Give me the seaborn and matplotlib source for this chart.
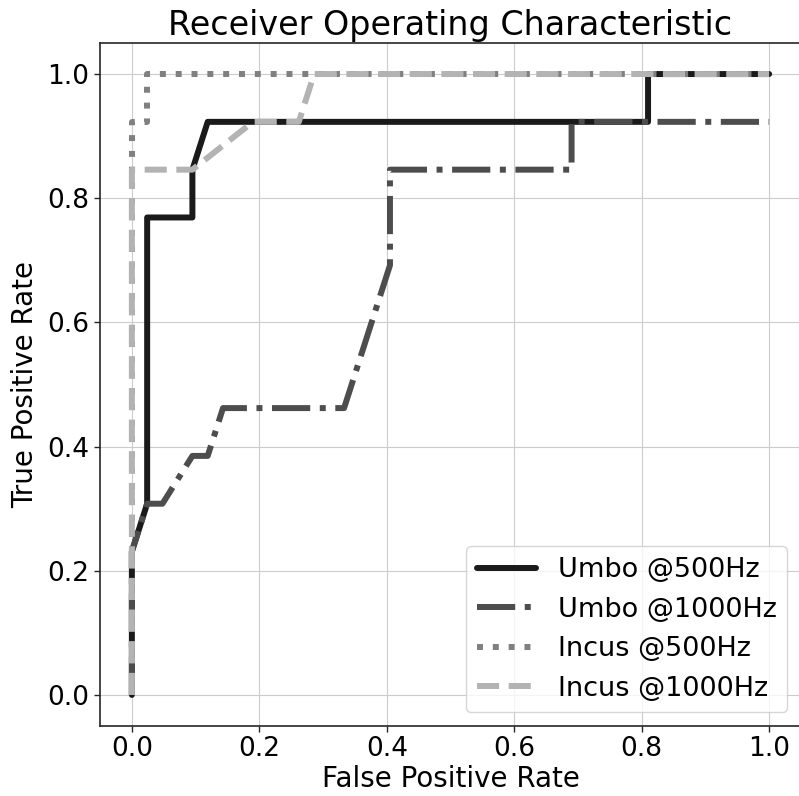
import matplotlib
matplotlib.use("Agg")
import matplotlib.pyplot as plt
import seaborn as sns
import pandas as pd

# ROC curve data (FPR, TPR)
umbo500_fpr = [0.0, 0.0, 0.024, 0.024, 0.095, 0.095, 0.119, 0.810, 0.810, 1.0]
umbo500_tpr = [0.0, 0.231, 0.308, 0.769, 0.769, 0.846, 0.923, 0.923, 1.0, 1.0]

umbo1000_fpr = [0.0, 0.0, 0.024, 0.048, 0.095, 0.119, 0.143, 0.333, 0.405, 0.405, 0.690, 0.690, 1.0]
umbo1000_tpr = [0.0, 0.231, 0.308, 0.308, 0.385, 0.385, 0.462, 0.462, 0.692, 0.846, 0.846, 0.923, 0.923]

incus500_fpr = [0.0, 0.0, 0.024, 0.024, 1.0]
incus500_tpr = [0.0, 0.923, 0.923, 1.0, 1.0]

incus1000_fpr = [0.0, 0.0, 0.095, 0.190, 0.262, 0.286, 1.0]
incus1000_tpr = [0.0, 0.846, 0.846, 0.923, 0.923, 1.0, 1.0]

labels = ["Umbo @500Hz", "Umbo @1000Hz", "Incus @500Hz", "Incus @1000Hz"]
colors = ["#1a1a1a", "#4d4d4d", "#808080", "#b3b3b3"]
styles = ["-", "-.", ":", "--"]

sns.set_style("whitegrid", {"axes.edgecolor": "0.15", "grid.color": "0.8",
                            "xtick.bottom": True, "ytick.left": True,
                            "text.color": "black", "axes.labelcolor": "black",
                            "xtick.color": "black", "ytick.color": "black"})
plt.rcParams["font.family"] = ["DejaVu Sans"]

fig = plt.figure(figsize=(7.99, 7.96), dpi=100)
ax = fig.add_axes([100 / 799, 1 - 726 / 796, 701 / 799, 683 / 796])

series = [(umbo500_fpr, umbo500_tpr), (umbo1000_fpr, umbo1000_tpr),
          (incus500_fpr, incus500_tpr), (incus1000_fpr, incus1000_tpr)]
for (fx, ty), lab, c, ls in zip(series, labels, colors, styles):
    df = pd.DataFrame({"fpr": fx, "tpr": ty})
    sns.lineplot(data=df, x="fpr", y="tpr", sort=False, estimator=None,
                 color=c, linestyle=ls, linewidth=4.3, label=lab, ax=ax)

ax.set_xlim(-0.05, 1.05)
ax.set_ylim(-0.05, 1.05)
ax.set_xticks([0.0, 0.2, 0.4, 0.6, 0.8, 1.0])
ax.set_yticks([0.0, 0.2, 0.4, 0.6, 0.8, 1.0])
ax.tick_params(labelsize=19, length=4, width=1, color="0.15")
ax.set_xlabel("False Positive Rate", fontsize=20, labelpad=2)
ax.set_ylabel("True Positive Rate", fontsize=20, labelpad=6)
ax.set_title("Receiver Operating Characteristic", fontsize=24)
for s in ax.spines.values():
    s.set_linewidth(1.2)
ax.legend(loc="lower right", fontsize=19.5, handlelength=2.2)

fig.savefig("out.png", dpi=100)
